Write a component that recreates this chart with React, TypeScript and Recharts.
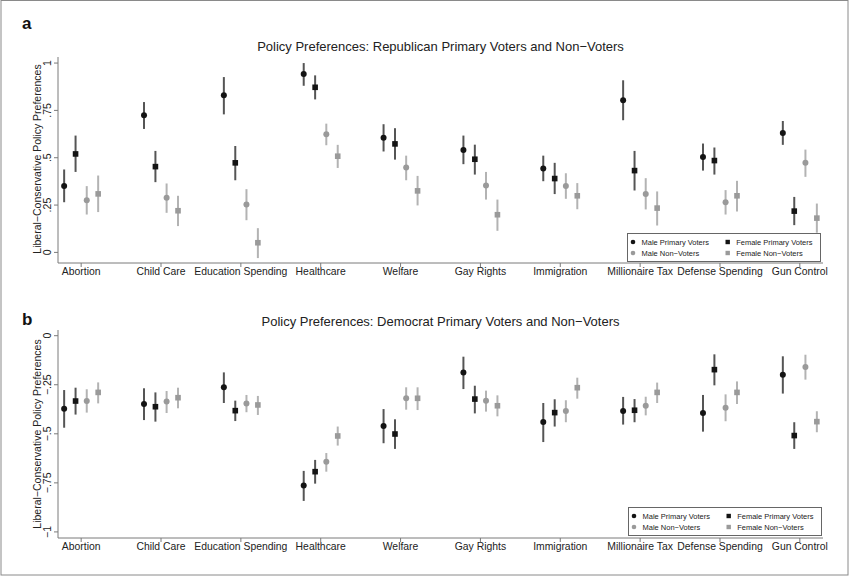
import { ScatterChart, Scatter, XAxis, YAxis, ErrorBar } from 'recharts';

const categories = [
  'Abortion', 'Child Care', 'Education Spending', 'Healthcare', 'Welfare',
  'Gay Rights', 'Immigration', 'Millionaire Tax', 'Defense Spending', 'Gun Control',
];

// panel a: Republican primary voters and non-voters
const repMalePrimary = [0.351, 0.724, 0.830, 0.942, 0.606, 0.541, 0.443, 0.803, 0.504, 0.631];
const repMalePrimaryLo = [0.265, 0.652, 0.729, 0.880, 0.533, 0.466, 0.376, 0.698, 0.432, 0.568];
const repMalePrimaryHi = [0.438, 0.794, 0.926, 1.000, 0.677, 0.617, 0.511, 0.909, 0.575, 0.694];
const repFemalePrimary = [0.520, 0.453, 0.473, 0.872, 0.573, 0.492, 0.390, 0.432, 0.485, 0.218];
const repFemalePrimaryLo = [0.425, 0.371, 0.381, 0.808, 0.490, 0.411, 0.308, 0.327, 0.411, 0.144];
const repFemalePrimaryHi = [0.617, 0.536, 0.562, 0.935, 0.656, 0.569, 0.473, 0.536, 0.554, 0.293];
const repMaleNon = [0.276, 0.288, 0.253, 0.624, 0.448, 0.353, 0.351, 0.309, 0.265, 0.473];
const repMaleNonLo = [0.200, 0.209, 0.170, 0.566, 0.381, 0.279, 0.283, 0.227, 0.200, 0.399];
const repMaleNonHi = [0.350, 0.364, 0.334, 0.680, 0.511, 0.425, 0.418, 0.392, 0.329, 0.543];
const repFemaleNon = [0.309, 0.220, 0.051, 0.508, 0.325, 0.199, 0.299, 0.234, 0.299, 0.181];
const repFemaleNonLo = [0.213, 0.139, -0.030, 0.446, 0.248, 0.114, 0.228, 0.142, 0.216, 0.104];
const repFemaleNonHi = [0.406, 0.299, 0.128, 0.568, 0.404, 0.279, 0.366, 0.322, 0.378, 0.258];

// panel b: Democrat primary voters and non-voters
const demMalePrimary = [-0.372, -0.348, -0.263, -0.764, -0.460, -0.188, -0.440, -0.384, -0.394, -0.199];
const demMalePrimaryLo = [-0.469, -0.430, -0.343, -0.842, -0.548, -0.272, -0.542, -0.453, -0.489, -0.295];
const demMalePrimaryHi = [-0.277, -0.268, -0.187, -0.689, -0.374, -0.107, -0.343, -0.312, -0.302, -0.105];
const demFemalePrimary = [-0.333, -0.362, -0.382, -0.693, -0.501, -0.323, -0.392, -0.380, -0.173, -0.509];
const demFemalePrimaryLo = [-0.402, -0.438, -0.435, -0.754, -0.577, -0.396, -0.463, -0.441, -0.253, -0.577];
const demFemalePrimaryHi = [-0.265, -0.289, -0.331, -0.633, -0.426, -0.255, -0.324, -0.323, -0.095, -0.441];
const demMaleNon = [-0.333, -0.336, -0.345, -0.642, -0.319, -0.331, -0.384, -0.357, -0.367, -0.160];
const demMaleNonLo = [-0.392, -0.394, -0.390, -0.693, -0.377, -0.387, -0.441, -0.406, -0.436, -0.224];
const demMaleNonHi = [-0.273, -0.282, -0.302, -0.598, -0.263, -0.280, -0.329, -0.311, -0.299, -0.097];
const demFemaleNon = [-0.289, -0.316, -0.353, -0.511, -0.319, -0.357, -0.265, -0.289, -0.289, -0.438];
const demFemaleNonLo = [-0.345, -0.370, -0.404, -0.560, -0.379, -0.411, -0.321, -0.343, -0.348, -0.492];
const demFemaleNonHi = [-0.238, -0.265, -0.307, -0.463, -0.263, -0.304, -0.214, -0.239, -0.233, -0.385];

const repTicks = [0, 0.25, 0.5, 0.75, 1];
const repTickLabels = ['0', '.25', '.5', '.75', '1'];
const demTicks = [-1, -0.75, -0.5, -0.25, 0];
const demTickLabels = ['\u22121', '\u2212.75', '\u2212.5', '\u2212.25', '0'];

const seriesNames = ['Male Primary Voters', 'Female Primary Voters', 'Male Non\u2212Voters', 'Female Non\u2212Voters'];
const offsets = [-0.213, -0.07, 0.07, 0.213];
const markers = ['circle', 'square', 'circle', 'square'];
const markerFill = ['#141414', '#141414', '#9a9a9a', '#9a9a9a'];
const barStroke = ['#555555', '#555555', '#b3b3b3', '#b3b3b3'];

const FONT = '"Liberation Sans", Arial, Helvetica, sans-serif';
const W = 850;
const H = 576;

const build = (values: number[], lo: number[], hi: number[], k: number) =>
  values.map((v, i) => ({ x: i + 1 + offsets[k], y: v, err: [v - lo[i], hi[i] - v] }));

const repSeries = [
  build(repMalePrimary, repMalePrimaryLo, repMalePrimaryHi, 0),
  build(repFemalePrimary, repFemalePrimaryLo, repFemalePrimaryHi, 1),
  build(repMaleNon, repMaleNonLo, repMaleNonHi, 2),
  build(repFemaleNon, repFemaleNonLo, repFemaleNonHi, 3),
];
const demSeries = [
  build(demMalePrimary, demMalePrimaryLo, demMalePrimaryHi, 0),
  build(demFemalePrimary, demFemalePrimaryLo, demFemalePrimaryHi, 1),
  build(demMaleNon, demMaleNonLo, demMaleNonHi, 2),
  build(demFemaleNon, demFemaleNonLo, demFemaleNonHi, 3),
];

const Marker = (kind: string, fill: string, size = 5.6) => (props: any) => {
  const { cx, cy } = props;
  if (kind === 'square') {
    return <rect x={cx - size / 2} y={cy - size / 2} width={size} height={size} fill={fill} />;
  }
  return <circle cx={cx} cy={cy} r={size / 2 + 0.2} fill={fill} />;
};

const YTick = (ticks: number[], labels: string[]) => (props: any) => {
  const { y, payload } = props;
  const idx = ticks.indexOf(payload.value);
  return (
    <text
      x={51}
      y={y}
      transform={`rotate(-90 51 ${y})`}
      textAnchor="middle"
      fontSize={10.5}
      fontFamily={FONT}
      fill="#222"
    >
      {labels[idx]}
    </text>
  );
};

type PanelProps = {
  top: number;
  marginTop: number;
  marginBottom: number;
  domain: [number, number];
  ticks: number[];
  tickLabels: string[];
  series: { x: number; y: number; err: number[] }[][];
};

const Panel = ({ top, marginTop, marginBottom, domain, ticks, tickLabels, series }: PanelProps) => (
  <div style={{ position: 'absolute', left: 0, top }}>
    <ScatterChart width={W} height={288} margin={{ top: marginTop, right: 27, bottom: marginBottom, left: 0 }}>
      <XAxis
        type="number"
        dataKey="x"
        domain={[0.71, 10.29]}
        ticks={[1, 2, 3, 4, 5, 6, 7, 8, 9, 10]}
        interval={0}
        allowDataOverflow
        tickFormatter={(v: number) => categories[v - 1]}
        stroke="#7a7a7a"
        tickSize={4}
        tickMargin={1}
        height={25}
        tick={{ fill: '#222', fontSize: 10.4, fontFamily: FONT }}
      />
      <YAxis
        type="number"
        dataKey="y"
        domain={domain}
        ticks={ticks}
        allowDataOverflow
        width={58}
        stroke="#7a7a7a"
        tickSize={4}
        tick={YTick(ticks, tickLabels)}
      />
      {series.map((d, k) => (
        <Scatter
          key={seriesNames[k]}
          name={seriesNames[k]}
          data={d}
          isAnimationActive={false}
          shape={Marker(markers[k], markerFill[k])}
        >
          <ErrorBar
            dataKey="err"
            direction="y"
            width={0}
            stroke={barStroke[k]}
            strokeWidth={2}
            isAnimationActive={false}
          />
        </Scatter>
      ))}
    </ScatterChart>
  </div>
);

const LegendBox = ({ x, y }: { x: number; y: number }) => {
  const cols = [6, 100.7];
  const rows = [9, 20];
  const order = [0, 1, 2, 3];
  return (
    <g>
      <rect x={x + 0.5} y={y + 0.5} width={193} height={28} fill="#fff" stroke="#666" strokeWidth={1} />
      {order.map((k) => {
        const cx = x + cols[k % 2];
        const cy = y + rows[Math.floor(k / 2)];
        return (
          <g key={k}>
            {markers[k] === 'square' ? (
              <rect x={cx - 2.2} y={cy - 2.2} width={4.4} height={4.4} fill={markerFill[k]} />
            ) : (
              <circle cx={cx} cy={cy} r={2.3} fill={markerFill[k]} />
            )}
            <text
              x={cx + 8.5}
              y={cy}
              dominantBaseline="central"
              fontSize={7.5}
              fontFamily={FONT}
              fill="#222"
            >
              {seriesNames[k]}
            </text>
          </g>
        );
      })}
    </g>
  );
};

const yLabel = 'Liberal\u2212Conservative Policy Preferences';

export default function App() {
  return (
    <div style={{ position: 'absolute', left: 0, top: 0, width: W, height: H, background: '#fff', fontFamily: FONT }}>
      <Panel
        top={0}
        marginTop={57}
        marginBottom={0}
        domain={[-0.056, 1.032]}
        ticks={repTicks}
        tickLabels={repTickLabels}
        series={repSeries}
      />
      <Panel
        top={288}
        marginTop={42}
        marginBottom={13}
        domain={[-1.031, 0.029]}
        ticks={demTicks}
        tickLabels={demTickLabels}
        series={demSeries}
      />
      <svg width={W} height={H} style={{ position: 'absolute', left: 0, top: 0, pointerEvents: 'none' }}>
        <rect x={1} y={0.5} width={847} height={574.5} fill="none" stroke="#8a8a8a" strokeWidth={1} />
        <text x={22} y={28.5} fontSize={17} fontWeight="bold" fontFamily={FONT} fill="#111">a</text>
        <text x={22} y={325} fontSize={17} fontWeight="bold" fontFamily={FONT} fill="#111">b</text>
        <text x={440.5} y={51} textAnchor="middle" fontSize={13} fontFamily={FONT} fill="#222">
          Policy Preferences: Republican Primary Voters and Non{'\u2212'}Voters
        </text>
        <text x={440.5} y={326} textAnchor="middle" fontSize={13} fontFamily={FONT} fill="#222">
          Policy Preferences: Democrat Primary Voters and Non{'\u2212'}Voters
        </text>
        <text x={40.5} y={159} transform="rotate(-90 40.5 159)" textAnchor="middle" fontSize={10.5} fontFamily={FONT} fill="#222">
          {yLabel}
        </text>
        <text x={40.5} y={434} transform="rotate(-90 40.5 434)" textAnchor="middle" fontSize={10.5} fontFamily={FONT} fill="#222">
          {yLabel}
        </text>
        <LegendBox x={627} y={233} />
        <LegendBox x={628} y={507} />
      </svg>
    </div>
  );
}
